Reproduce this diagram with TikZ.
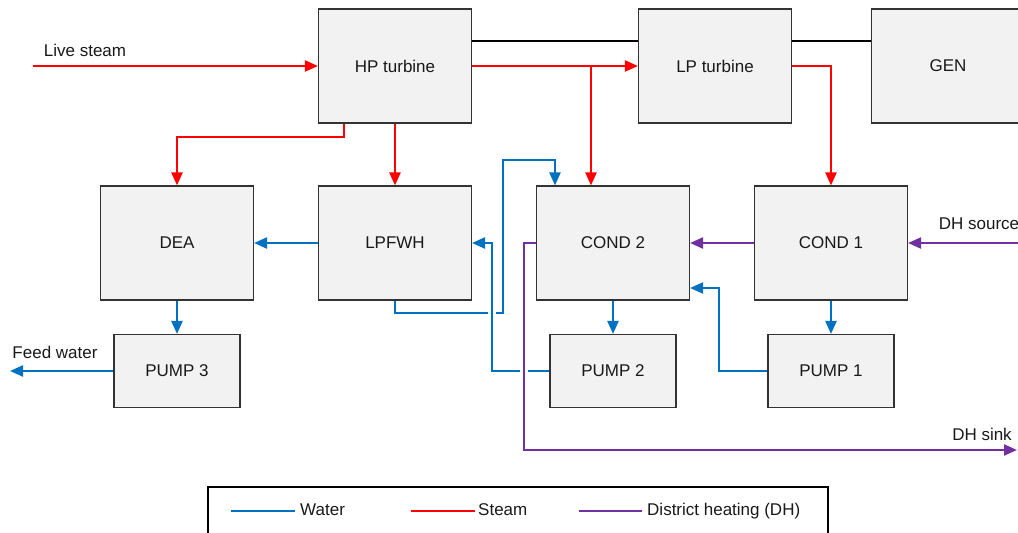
\documentclass[tikz,border=0pt]{standalone}
\usepackage{fontspec}
\setmainfont{Liberation Sans}
\usetikzlibrary{arrows.meta}
\definecolor{steam}{HTML}{FF0000}
\definecolor{water}{HTML}{0070C0}
\definecolor{dh}{HTML}{7030A0}
\definecolor{boxfill}{HTML}{F2F2F2}
\begin{document}
\begin{tikzpicture}[x=1pt,y=-1pt,
  lbl/.style={font=\fontsize{17}{20}\selectfont, inner sep=0pt, text=black!90},
  blk/.style={lbl, draw=black!80, fill=boxfill, line width=1.1pt, minimum width=153pt, minimum height=114pt},
  pmp/.style={blk, minimum width=126pt, minimum height=73pt},
  flow/.style={line width=2.2pt, -{Triangle[length=13pt,width=11pt]}},
  halo/.style={preaction={draw=white, line width=8pt, -}},
  shaft/.style={draw=black, line width=1.6pt},
  legline/.style={line width=2.2pt}]
\useasboundingbox (0,0) rectangle (1018,533);
\clip (0,0) rectangle (1018,533);

% blocks
\node[blk] (hp) at (395,66) {HP turbine};
\node[blk] (lp) at (715,66) {LP turbine};
\node[blk] (gen) at (948,66) {GEN};
\node[blk] (dea) at (177,243) {DEA};
\node[blk] (lpfwh) at (395,243) {LPFWH};
\node[blk] (cond2) at (613,243) {COND 2};
\node[blk] (cond1) at (831,243) {COND 1};
\node[pmp] (pump3) at (177,371) {PUMP 3};
\node[pmp] (pump2) at (613,371) {PUMP 2};
\node[pmp] (pump1) at (831,371) {PUMP 1};

% free ends
\coordinate (ls) at (33,66);
\coordinate (fw) at (10,371);
\coordinate (dhsrc) at (1018,243);
\coordinate (dhsnk) at (1017,450);

% labels
\node[lbl] (lslbl) at (85,50) {Live steam};
\node[lbl] (fwlbl) at (55,352) {Feed water};
\node[lbl] (dhsrclbl) at (979,224) {DH source};
\node[lbl] (dhsnklbl) at (982,434) {DH sink};

% shaft
\draw[shaft] (hp.east |- 0,41) -- (lp.west |- 0,41);
\draw[shaft] (lp.east |- 0,41) -- (gen.west |- 0,41);

% steam
\draw[flow,steam] (ls) -- (hp.west);
\draw[flow,steam] (hp.east) -- (lp.west);
\draw[flow,steam] (591,66) -- (cond2.north -| 591,0);
\draw[flow,steam] (hp.south -| 344,0) -- (344,137) -| (dea.north);
\draw[flow,steam] (hp.south) -- (lpfwh.north);
\draw[flow,steam] (lp.east) -| (cond1.north);

% water
\draw[flow,water] (lpfwh.west) -- (dea.east);
\draw[flow,water] (dea.south) -- (pump3.north);
\draw[flow,water] (pump3.west) -- (fw);
\draw[flow,water] (lpfwh.south) -- (395,313) -- (503,313) -- (503,160) -| (cond2.north -| 555,0);
\draw[flow,water,halo] (pump2.west) -| (492,243) -- (lpfwh.east);
\draw[flow,water] (cond2.south) -- (pump2.north);
\draw[flow,water] (cond1.south) -- (pump1.north);
\draw[flow,water] (pump1.west) -| (719,288) -- (cond2.east |- 0,288);

% district heating
\draw[flow,dh] (dhsrc) -- (cond1.east);
\draw[flow,dh] (cond1.west) -- (cond2.east);
\draw[flow,dh,halo] (cond2.west) -- (524,243) |- (dhsnk);

% legend
\node[draw=black, line width=1.1pt, minimum width=620pt, minimum height=60pt, inner sep=0pt] (legend) at (518,517) {};
\coordinate (lw1) at (231,511); \coordinate (lw2) at (295,511);
\coordinate (ls1) at (411,511); \coordinate (ls2) at (475,511);
\coordinate (ld1) at (579,511); \coordinate (ld2) at (642,511);
\draw[legline,water] (lw1) -- (lw2);
\draw[legline,steam] (ls1) -- (ls2);
\draw[legline,dh] (ld1) -- (ld2);
\node[lbl, anchor=base west] (legw) at (300,515) {Water};
\node[lbl, anchor=base west] (legs) at (478,515) {Steam};
\node[lbl, anchor=base west] (legd) at (647,515) {District heating (DH)};
\end{tikzpicture}
\end{document}
